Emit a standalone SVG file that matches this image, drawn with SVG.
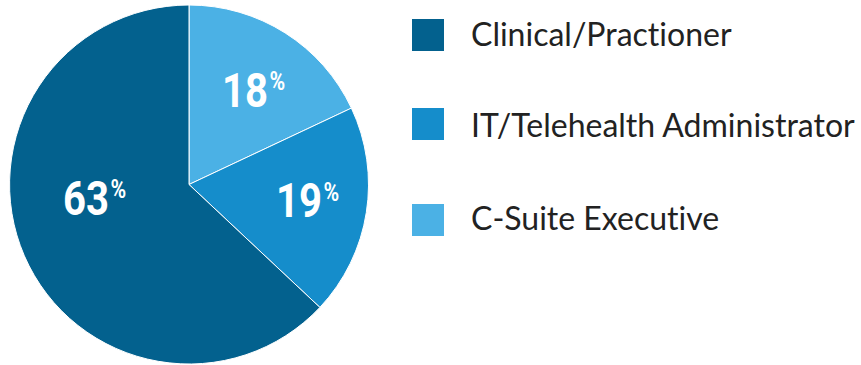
<svg xmlns="http://www.w3.org/2000/svg" width="861" height="365" viewBox="0 0 861 365">
<style>
.slice{stroke:#ffffff;stroke-width:1;stroke-linejoin:round}
.pct{font-family:Roboto,"Liberation Sans",sans-serif;font-weight:bold;fill:#ffffff;font-size:49px}
.sym{font-size:26px}
.leg{font-family:Lato,"Liberation Sans",sans-serif;font-size:32px;fill:#222222;font-variant-ligatures:none}
.c1{fill:#03618e}
.c2{fill:#158dcb}
.c3{fill:#4bb1e5}
</style>
<rect width="861" height="365" fill="#ffffff"/>
<g id="pie">
<path id="slice-csuite" class="slice c3" d="M189,184.5 L189,5 A179.5,179.5 0 0 1 351.4,108.1 Z"/>
<path id="slice-it" class="slice c2" d="M189,184.5 L351.4,108.1 A179.5,179.5 0 0 1 319.9,307.4 Z"/>
<path id="slice-clinical" class="slice c1" d="M189,184.5 L319.9,307.4 A179.5,179.5 0 1 1 189,5 Z"/>
</g>
<g id="labels">
<g id="label-18"><text class="pct" transform="translate(222,107) scale(0.818,1)">18<tspan class="sym" dx="2" dy="-17">%</tspan></text></g>
<g id="label-63"><text class="pct" transform="translate(63,215) scale(0.818,1)">63<tspan class="sym" dx="2" dy="-17">%</tspan></text></g>
<g id="label-19"><text class="pct" transform="translate(276,217) scale(0.818,1)">19<tspan class="sym" dx="2" dy="-16">%</tspan></text></g>
</g>
<g id="legend">
<g id="legend-clinical"><rect class="c1" x="412" y="19" width="32" height="32"/><text class="leg" x="471" y="46">Clinical/Practioner</text></g>
<g id="legend-it"><rect class="c2" x="412" y="108" width="32" height="32"/><text class="leg" x="471" y="137">IT/Telehealth Administrator</text></g>
<g id="legend-csuite"><rect class="c3" x="412" y="204" width="32" height="32"/><text class="leg" x="471" y="230">C-Suite Executive</text></g>
</g>
</svg>
